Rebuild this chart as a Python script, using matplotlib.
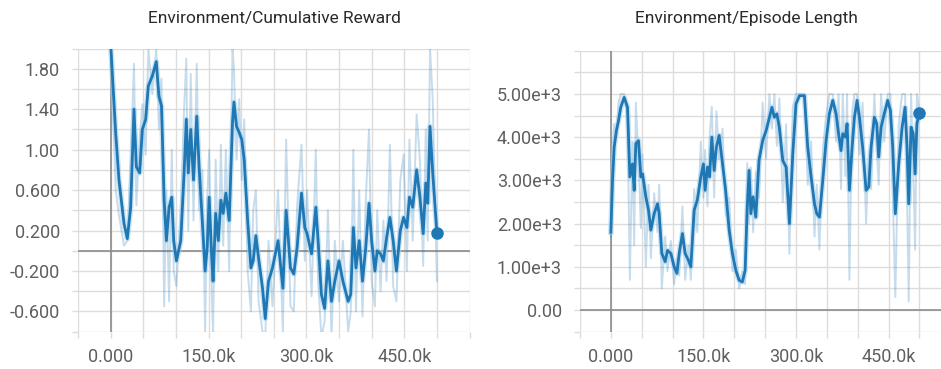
import matplotlib
matplotlib.use("Agg")
import matplotlib.pyplot as plt
from matplotlib.ticker import FixedLocator, FuncFormatter
import numpy as np

# Cumulative reward (steps in thousands)
reward_steps = [0, 7.7, 12.8, 20.5, 25.6, 30.7, 35.8, 39.4, 44.5, 48.6,
                53.7, 57.8, 64, 70, 74, 78, 82, 85.5, 89.6, 93.7,
                96.7, 100.8, 107.5, 112.6, 116, 119, 122.8, 127, 132, 135.6,
                140.7, 144.8, 148, 151, 155, 157, 161, 165, 169, 172.5,
                176.6, 181.7, 186.8, 189, 193, 197, 201, 204.7, 210, 215,
                218.5, 222.6, 226.7, 232.8, 237, 242, 248, 256.6, 264, 269,
                275.6, 280.7, 285.8, 292.5, 297.6, 301, 308, 314.5, 318, 323,
                328, 333, 338.5, 343.6, 350, 356, 364, 368, 372, 376,
                381, 386, 391, 396, 400, 405, 408.6, 413.7, 418, 423,
                428, 433, 438, 444, 449, 454, 458, 463, 469, 474,
                479, 483, 486, 489.5, 493.6, 500]
reward_smooth = [2.05, 1.17, 0.70, 0.27, 0.12, 0.43, 1.40, 0.83, 0.77, 1.20,
                 1.30, 1.63, 1.73, 1.87, 1.53, 1.43, 0.50, 0.10, 0.43, 0.53,
                 0.10, -0.10, 0.10, 0.77, 1.30, 0.77, 1.20, 0.70, 1.33, 0.83,
                 0.27, -0.20, 0.03, 0.53, -0.07, -0.30, 0.37, 0.10, 0.50, 0.37,
                 0.57, 0.30, 1.27, 1.47, 1.23, 1.17, 1.10, 0.90, 0.30, -0.17,
                 -0.10, 0.15, -0.07, -0.37, -0.67, -0.30, -0.17, 0.10, -0.37, 0.40,
                 -0.17, -0.23, 0.03, 0.57, 0.23, 0.17, -0.03, 0.43, 0.10, -0.43,
                 -0.57, -0.10, -0.50, -0.30, -0.10, -0.30, -0.50, -0.43, 0.23, -0.17,
                 0.10, -0.30, 0.03, 0.47, 0.10, -0.20, 0.00, -0.03, -0.10, 0.13,
                 0.33, 0.10, -0.20, 0.20, 0.33, 0.23, 0.53, 0.43, 0.80, 0.53,
                 0.17, 0.67, 0.47, 1.23, 0.77, 0.18]
reward_raw = [2.10, 0.60, 0.35, 0.05, 0.10, 0.90, 1.85, 0.45, 1.10, 1.45,
              0.95, 2.00, 1.55, 2.00, 1.20, 1.70, -0.55, 0.60, -0.50, 1.00,
              -0.20, -0.35, 0.40, 1.40, 1.90, 0.20, 1.75, 0.30, 1.85, 0.40,
              0.80, -0.80, 0.50, 1.00, -0.45, -0.80, 0.90, -0.20, 1.05, 0.05,
              1.00, -0.20, 2.00, 1.80, 0.90, 1.50, 0.70, 1.30, -0.20, -0.60,
              0.40, 0.60, -0.50, -0.80, -0.85, 0.10, -0.55, 0.60, -0.80, 1.10,
              -0.55, -0.60, 0.45, 1.05, -0.10, 0.60, -0.45, 1.00, -0.30, -0.85,
              -0.70, 0.40, -0.85, 0.10, -0.50, 0.10, -0.80, -0.60, 1.00, -0.60,
              0.60, -0.65, 0.50, 1.20, -0.30, -0.55, 0.40, -0.40, 0.30, -0.30,
              1.05, -0.35, -0.50, 0.70, 0.95, -0.20, 1.10, 0.10, 1.35, 0.90,
              -0.15, 1.20, 0.10, 2.00, 1.50, -0.30]

# Episode length (steps in thousands)
length_steps = [0, 2.7, 5.4, 9, 12.4, 16, 21.6, 27, 30.8, 35,
                37.8, 40.5, 44.8, 48.6, 51.3, 56.7, 61, 64.8, 70.2, 75.6,
                78.3, 82.6, 88, 91.8, 97.2, 102.6, 107, 110.7, 116, 120.4,
                125.8, 129.6, 135, 140, 145.8, 150, 152.8, 156.6, 160, 163.6,
                167.4, 171, 175.5, 181, 186, 191.7, 197, 202.5, 207.9, 213,
                217.6, 221, 224, 226.8, 230.5, 234.9, 240, 246, 251.6, 257,
                261, 265, 269, 273, 278.6, 284, 289.4, 294.8, 300, 305.6,
                313.7, 319, 324.5, 330, 333.7, 338, 343.4, 348.8, 354, 359.6,
                365, 369, 373, 375.8, 380, 382.8, 386.6, 391, 394.7, 399,
                402.8, 408, 413.6, 418, 421.7, 427, 430.9, 434, 437.9, 443,
                448.6, 453, 456.8, 461, 466.5, 472, 476.8, 480, 482.7, 486.5,
                490, 493, 496, 500]
length_smooth = [1800, 3000, 3770, 4150, 4380, 4690, 4920, 4690, 3080, 3380,
                 2770, 3850, 3920, 3080, 3150, 2620, 2310, 1850, 2230, 2460,
                 2230, 1310, 1120, 1380, 1310, 1000, 850, 1310, 1770, 1310,
                 1150, 1000, 2310, 2540, 3080, 3380, 2770, 3310, 3080, 4000,
                 3230, 3770, 4040, 3380, 2770, 1850, 1310, 920, 690, 650,
                 920, 2380, 3230, 2230, 2620, 2150, 3460, 3920, 4150, 4460,
                 4690, 4460, 4540, 4230, 3460, 3310, 2000, 3610, 4770, 4960,
                 4960, 3770, 3080, 2460, 2230, 2150, 3000, 3920, 4540, 4850,
                 4540, 4080, 3690, 4080, 4000, 4310, 2770, 3770, 4460, 4850,
                 4460, 3770, 2770, 2850, 3770, 4460, 4310, 3540, 4230, 4540,
                 4850, 4620, 3770, 2230, 3380, 4230, 4690, 3770, 2460, 4230,
                 4080, 3150, 4310, 4550]
length_raw = [1700, 3600, 4300, 4000, 4800, 5000, 5000, 4400, 700, 3900,
              1500, 4800, 3500, 1900, 3600, 1000, 2900, 1200, 2700, 1800,
              2900, 500, 1700, 900, 1600, 600, 1200, 800, 2400, 700,
              1500, 700, 2800, 1800, 3900, 2600, 3700, 2400, 4000, 4700,
              2600, 4600, 3500, 4200, 2200, 2600, 900, 1400, 500, 900,
              600, 3400, 2000, 3300, 1800, 3200, 2600, 4800, 3500, 5000,
              4200, 5000, 3800, 4900, 2500, 4300, 1300, 4700, 5000, 5000,
              5000, 2900, 3900, 1700, 2900, 1400, 3700, 4500, 5000, 5000,
              3900, 5000, 2800, 5000, 3100, 5000, 700, 4600, 5000, 5000,
              3600, 4800, 2000, 3700, 2800, 5000, 3700, 2900, 5000, 3900,
              5000, 5000, 2700, 300, 4300, 5000, 5000, 2600, 200, 5000,
              3300, 1400, 5000, 4550]

x_grid = np.arange(-50, 551, 50) * 1000
x_labels = {0: "0.000", 150000: "150.0k", 300000: "300.0k", 450000: "450.0k"}

plt.rcParams["font.family"] = ["Roboto", "DejaVu Sans"]

LINE = "#1f77b4"
GRID = "#dcdcdc"
ZERO = "#8c8c8c"
TXT = "#5f5f5f"


def style_axis(ax, xlim, ylim, y_grid, y_labels):
    ax.set_xlim(*xlim)
    ax.set_ylim(*ylim)
    for s in ax.spines.values():
        s.set_visible(False)
    ax.xaxis.set_major_locator(FixedLocator(x_grid))
    ax.xaxis.set_major_formatter(FuncFormatter(lambda v, p: x_labels.get(int(round(v)), "")))
    ax.yaxis.set_major_locator(FixedLocator(y_grid))
    ax.yaxis.set_major_formatter(FuncFormatter(lambda v, p: y_labels.get(round(v, 3), "")))
    ax.grid(True, color=GRID, linewidth=1.0)
    ax.tick_params(length=4, width=1.0, color=GRID, labelcolor=TXT, labelsize=13)
    ax.tick_params(axis="x", pad=8)
    ax.tick_params(axis="y", pad=9)
    ax.axhline(0, color=ZERO, linewidth=1.2, zorder=1)
    ax.axvline(0, color=ZERO, linewidth=1.2, zorder=1)
    ax.set_axisbelow(True)


def draw(ax, steps, raw, smooth):
    x = np.array(steps) * 1000
    ax.plot(x, raw, color=LINE, alpha=0.25, linewidth=1.4, zorder=2)
    ax.plot(x, smooth, color="#a8d3f0", alpha=0.6, linewidth=4.0, zorder=3)
    ax.plot(x, smooth, color=LINE, linewidth=2.0, zorder=4)
    ax.plot(x[-1], smooth[-1], "o", color=LINE, markersize=8, zorder=5, clip_on=False)


def main():
    fig = plt.figure(figsize=(9.41, 3.69), dpi=100)
    W, H = 941, 369

    ax1 = fig.add_axes([78 / W, (H - 331.7) / H, (469.5 - 78) / W, (331.7 - 48.5) / H])
    draw(ax1, reward_steps, reward_raw, reward_smooth)
    r_grid = np.round(np.arange(-0.8, 2.01, 0.2), 3)
    r_labels = {1.8: "1.80", 1.4: "1.40", 1.0: "1.00", 0.6: "0.600",
                0.2: "0.200", -0.2: "-0.200", -0.6: "-0.600"}
    style_axis(ax1, (-50000, 550000), (-0.8, 2.0), r_grid, r_labels)

    ax2 = fig.add_axes([580 / W, (H - 331.7) / H, (941 - 580) / W, (331.7 - 50.7) / H])
    draw(ax2, length_steps, length_raw, length_smooth)
    l_grid = np.arange(-500, 6001, 500)
    l_labels = {5000: "5.00e+3", 4000: "4.00e+3", 3000: "3.00e+3",
                2000: "2.00e+3", 1000: "1.00e+3", 0: "0.00"}
    style_axis(ax2, (-50000, 535000), (-500, 6000), l_grid, l_labels)

    fig.text(274 / W, 1 - 18 / H, "Environment/Cumulative Reward", ha="center",
             va="center", fontsize=12.5, color="#2a2a2a")
    fig.text(746 / W, 1 - 18 / H, "Environment/Episode Length", ha="center",
             va="center", fontsize=12.5, color="#2a2a2a")

    fig.savefig("out.png", dpi=100)


if __name__ == "__main__":
    main()
